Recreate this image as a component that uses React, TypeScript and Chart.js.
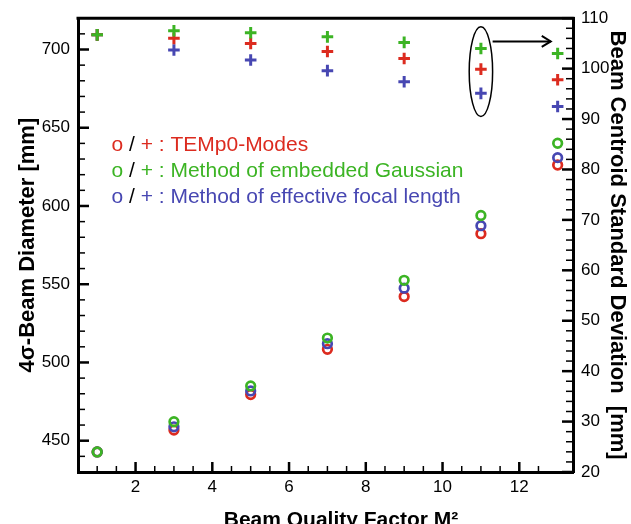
import React, { useEffect, useRef } from "react";
import { Chart, registerables } from "chart.js";

Chart.register(...registerables);

// ---- data ----
const mSquared = [1, 3, 5, 7, 9, 11, 13];

// 4σ beam diameter [mm] (circles, left axis)
const diamTEM = [442.8, 456.8, 479.5, 508.4, 542.1, 582.3, 626.2];
const diamGauss = [442.8, 462.1, 485.0, 515.6, 552.5, 593.9, 640.1];
const diamFocal = [442.8, 458.9, 481.8, 512.0, 547.5, 587.4, 630.9];

// Beam centroid standard deviation [mm] (crosses, right axis)
const sdTEM = [106.7, 106.0, 105.0, 103.4, 102.0, 99.9, 97.8];
const sdGauss = [106.7, 107.5, 107.1, 106.3, 105.2, 104.0, 103.0];
const sdFocal = [106.7, 103.7, 101.7, 99.6, 97.4, 95.1, 92.5];

// tick labels
const xTickLabels = [2, 4, 6, 8, 10, 12];
const leftTickLabels = [450, 500, 550, 600, 650, 700];
const rightTickLabels = [20, 30, 40, 50, 60, 70, 80, 90, 100, 110];

const legendLines = [
  { colorKey: "red", text: " : TEMp0-Modes" },
  { colorKey: "green", text: " : Method of embedded Gaussian" },
  { colorKey: "blue", text: " : Method of effective focal length" },
];

const COLORS: Record<string, string> = {
  red: "#dc2b1f",
  green: "#3cb424",
  blue: "#4747b2",
};

const FONT = "'Liberation Sans', Arial, Helvetica, sans-serif";

function isMult(v: number, m: number) {
  const q = v / m;
  return Math.abs(q - Math.round(q)) < 1e-6;
}

const decorPlugin = {
  id: "decor",
  afterDraw(chart: any) {
    const { ctx, chartArea } = chart;
    const xs = chart.scales.x;
    const ys = chart.scales.y;
    const y2 = chart.scales.y2;
    ctx.save();
    ctx.strokeStyle = "#000";
    ctx.lineCap = "butt";

    // top border
    ctx.lineWidth = 3;
    ctx.beginPath();
    ctx.moveTo(chartArea.left - 1.5, chartArea.top);
    ctx.lineTo(chartArea.right + 1.5, chartArea.top);
    ctx.stroke();

    // inward ticks - x
    xs.ticks.forEach((t: any) => {
      if (!isMult(t.value, 0.5)) return;
      const major = isMult(t.value, 2);
      const px = xs.getPixelForValue(t.value);
      ctx.lineWidth = major ? 2.5 : 1.5;
      ctx.beginPath();
      ctx.moveTo(px, chartArea.bottom);
      ctx.lineTo(px, chartArea.bottom - (major ? 10 : 6));
      ctx.stroke();
    });
    // left
    ys.ticks.forEach((t: any) => {
      if (!isMult(t.value, 10)) return;
      const major = isMult(t.value, 50);
      const py = ys.getPixelForValue(t.value);
      ctx.lineWidth = major ? 2.5 : 1.5;
      ctx.beginPath();
      ctx.moveTo(chartArea.left, py);
      ctx.lineTo(chartArea.left + (major ? 11 : 7), py);
      ctx.stroke();
    });
    // right
    y2.ticks.forEach((t: any) => {
      if (!isMult(t.value, 2)) return;
      const major = isMult(t.value, 10);
      const py = y2.getPixelForValue(t.value);
      ctx.lineWidth = major ? 2.5 : 1.5;
      ctx.beginPath();
      ctx.moveTo(chartArea.right, py);
      ctx.lineTo(chartArea.right - (major ? 11 : 7), py);
      ctx.stroke();
    });

    // ellipse around the M²=11 centroid markers + arrow to the right axis
    const cx = xs.getPixelForValue(11);
    const cy = y2.getPixelForValue(99.4);
    const ry = y2.getPixelForValue(99.4) - y2.getPixelForValue(108.3);
    const rx = 11.7;
    ctx.lineWidth = 1.5;
    ctx.beginPath();
    ctx.ellipse(cx, cy, rx, ry, 0, 0, Math.PI * 2);
    ctx.stroke();

    const ay = y2.getPixelForValue(105.4);
    const ax0 = cx + rx;
    const ax1 = xs.getPixelForValue(12.82);
    ctx.lineWidth = 2;
    ctx.beginPath();
    ctx.moveTo(ax0, ay);
    ctx.lineTo(ax1, ay);
    ctx.stroke();
    ctx.beginPath();
    ctx.moveTo(ax1 - 9, ay - 5.5);
    ctx.lineTo(ax1, ay);
    ctx.lineTo(ax1 - 9, ay + 5.5);
    ctx.stroke();

    // legend text
    ctx.font = `21px ${FONT}`;
    ctx.textBaseline = "alphabetic";
    ctx.textAlign = "left";
    const lx = 111.5;
    const baselines = [150.7, 176.7, 202.7];
    legendLines.forEach((ln, i) => {
      const col = COLORS[ln.colorKey];
      const segs = [
        { t: "o", c: col },
        { t: " / ", c: "#000" },
        { t: "+", c: col },
        { t: ln.text, c: col },
      ];
      let x = lx;
      segs.forEach((s) => {
        ctx.fillStyle = s.c;
        ctx.fillText(s.t, x, baselines[i]);
        x += ctx.measureText(s.t).width;
      });
    });

    // x-axis title
    ctx.fillStyle = "#000";
    ctx.font = `bold 21px ${FONT}`;
    ctx.textAlign = "center";
    ctx.fillText("Beam Quality Factor M\u00b2", 341, 526);
    ctx.restore();
  },
};

function circleSet(label: string, ys: number[], color: string) {
  return {
    label,
    data: mSquared.map((x, i) => ({ x, y: ys[i] })),
    yAxisID: "y",
    showLine: false,
    pointStyle: "circle",
    pointRadius: 4.3,
    pointHoverRadius: 4.3,
    pointBorderWidth: 2.7,
    pointBorderColor: color,
    pointBackgroundColor: "rgba(0,0,0,0)",
    borderColor: color,
    backgroundColor: "rgba(0,0,0,0)",
  };
}

function crossSet(label: string, ys: number[], color: string) {
  return {
    label,
    data: mSquared.map((x, i) => ({ x, y: ys[i] })),
    yAxisID: "y2",
    showLine: false,
    pointStyle: "cross",
    pointRadius: 5.8,
    pointHoverRadius: 5.8,
    pointBorderWidth: 3,
    pointBorderColor: color,
    pointBackgroundColor: color,
    borderColor: color,
    backgroundColor: color,
  };
}

export default function App() {
  const ref = useRef<HTMLCanvasElement | null>(null);

  useEffect(() => {
    if (!ref.current) return;
    const tickFont = { family: FONT, size: 17 };
    const noGrid = { display: false, drawTicks: false, tickLength: 0 };
    const chart = new Chart(ref.current, {
      type: "scatter",
      data: {
        datasets: [
          circleSet("Gauss D", diamGauss, COLORS.green),
          circleSet("Focal D", diamFocal, COLORS.blue),
          circleSet("TEM D", diamTEM, COLORS.red),
          crossSet("Gauss SD", sdGauss, COLORS.green),
          crossSet("TEM SD", sdTEM, COLORS.red),
          crossSet("Focal SD", sdFocal, COLORS.blue),
        ] as any,
      },
      options: {
        animation: false,
        responsive: false,
        events: [],
        layout: { padding: { top: 18, left: 0, right: 0, bottom: 0 } },
        plugins: {
          legend: { display: false },
          tooltip: { enabled: false },
        },
        scales: {
          x: {
            type: "linear",
            position: "bottom",
            min: 0.5,
            max: 13.4,
            grid: noGrid,
            border: { display: true, color: "#000", width: 3 },
            ticks: {
              stepSize: 0.5,
              autoSkip: false,
              maxRotation: 0,
              padding: 5,
              color: "#000",
              font: tickFont,
              callback: (v: any) => (xTickLabels.includes(Number(v)) ? String(v) : ""),
            },
            afterFit: (s: any) => {
              s.height = 52;
            },
          },
          y: {
            type: "linear",
            position: "left",
            min: 430,
            max: 720,
            grid: noGrid,
            border: { display: true, color: "#000", width: 3 },
            ticks: {
              stepSize: 10,
              autoSkip: false,
              padding: 8,
              color: "#000",
              font: tickFont,
              callback: (v: any) => (leftTickLabels.includes(Number(v)) ? String(v) : ""),
            },
            title: {
              display: true,
              text: "4\u03c3-Beam Diameter [mm]",
              color: "#000",
              font: { family: FONT, size: 22, weight: "bold" },
              padding: { top: 14.5, bottom: 0 },
            },
            afterFit: (s: any) => {
              s.width = 78;
            },
          },
          y2: {
            type: "linear",
            position: "right",
            min: 20,
            max: 110,
            grid: noGrid,
            border: { display: true, color: "#000", width: 3 },
            ticks: {
              stepSize: 2,
              autoSkip: false,
              padding: 8,
              color: "#000",
              font: tickFont,
              callback: (v: any) => (rightTickLabels.includes(Number(v)) ? String(v) : ""),
            },
            title: {
              display: true,
              text: "Beam Centroid Standard Deviation  [mm]",
              color: "#000",
              font: { family: FONT, size: 22, weight: "bold" },
              padding: { top: 1, bottom: 0 },
            },
            afterFit: (s: any) => {
              s.width = 58;
            },
          },
        },
      } as any,
      plugins: [decorPlugin],
    });
    return () => chart.destroy();
  }, []);

  return (
    <div style={{ position: "absolute", left: 0, top: 0, width: 631, height: 524, background: "#fff" }}>
      <canvas ref={ref} width={631} height={524} style={{ display: "block" }} />
    </div>
  );
}
